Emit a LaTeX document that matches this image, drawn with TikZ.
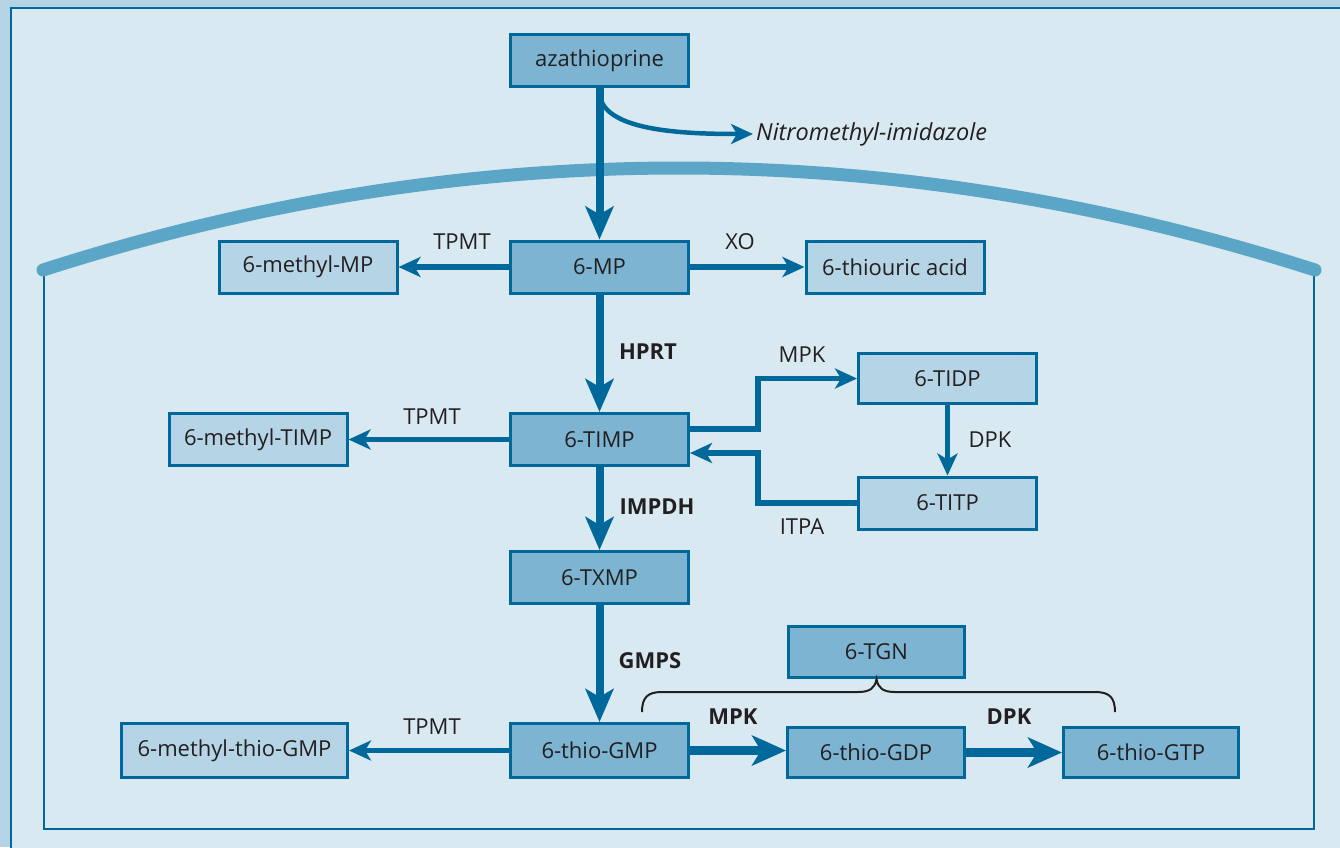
\documentclass[tikz,border=0pt]{standalone}
\usepackage{fontspec}
\setmainfont{Open Sans}
\usetikzlibrary{arrows.meta}
\definecolor{bg}{HTML}{D9E9F2}
\definecolor{strip}{HTML}{B4D4E6}
\definecolor{dkblue}{HTML}{00689A}
\definecolor{midfill}{HTML}{7CB4D2}
\definecolor{ltfill}{HTML}{B5D5E7}
\definecolor{membrane}{HTML}{5BA6C7}
\definecolor{txt}{HTML}{231F20}
\tikzset{
  box/.style={draw=dkblue, line width=3pt, fill=midfill, inner sep=0pt,
    font=\fontsize{22}{25}\selectfont, text=txt, minimum width=178pt, minimum height=52pt},
  lbox/.style={box, fill=ltfill},
  lbl/.style={font=\fontsize{22}{25}\selectfont, text=txt, inner sep=0pt},
  blbl/.style={lbl, font=\fontsize{22}{25}\selectfont\bfseries},
  bigarrow/.style={draw=dkblue, line width=8pt, -{Stealth[length=33pt,width=28pt,inset=8pt]}},
  thinarrow/.style={draw=dkblue, line width=5.5pt, -{Stealth[length=22pt,width=20pt,inset=6pt]}},
  fatarrow/.style={draw=dkblue, line width=9pt, -{Stealth[length=34pt,width=30pt,inset=9pt]}},
}
\begin{document}
\begin{tikzpicture}[x=1pt, y=-1pt]
\useasboundingbox (0,0) rectangle (1340,847);
% frame
\fill[strip] (0,0) rectangle (1340,847);
\fill[bg] (11,8) rectangle (1345,852);
\draw[dkblue, line width=2pt] (11,852) -- (11,8) -- (1345,8);
% membrane and cell
\draw[dkblue, line width=2.5pt] (44,272) -- (44,829) -- (1314,829) -- (1314,272);
\draw[membrane, line width=13pt, line cap=round] (43,270) .. controls (466,134) and (891,134) .. (1315,270);

% nodes
\node[box] (aza) at (599.5,60.5) {azathioprine};
\node[box] (mp) at (599.5,267) {6-MP};
\node[lbox] (mmp) at (308,267) {6-methyl-MP};
\node[lbox] (thio) at (895,267) {6-thiouric acid};
\node[box] (timp) at (599.5,439.5) {6-TIMP};
\node[lbox] (mtimp) at (258,439.5) {6-methyl-TIMP};
\node[lbox, minimum height=50pt] (tidp) at (947.5,378.5) {6-TIDP};
\node[lbox] (titp) at (947.5,503) {6-TITP};
\node[box] (txmp) at (599.5,577.5) {6-TXMP};
\node[box, minimum height=54pt] (tgmp) at (599.5,750.5) {6-thio-GMP};
\node[lbox, minimum width=226pt, minimum height=54pt] (mtgmp) at (234.5,750.5) {6-methyl-thio-GMP};
\node[box, minimum width=177pt, minimum height=50pt] (tgdp) at (876,752.5) {6-thio-GDP};
\node[box, minimum width=175pt, minimum height=50pt] (tgtp) at (1151,752.5) {6-thio-GTP};
\node[box, minimum width=176pt, minimum height=51pt] (tgn) at (876.5,652) {6-TGN};
\node[lbl, anchor=west, font=\fontsize{23.5}{26}\selectfont\itshape, inner sep=3pt] (nitro) at (753,134) {Nitromethyl-imidazole};

% labels
\node[lbl] (l1) at (462,242) {TPMT};
\node[lbl] (l2) at (740,242) {XO};
\node[blbl] (l3) at (648,352) {HPRT};
\node[lbl] (l4) at (802,355) {MPK};
\node[lbl] (l5) at (990,440) {DPK};
\node[lbl] (l6) at (802,527) {ITPA};
\node[lbl] (l7) at (432,417) {TPMT};
\node[blbl] (l8) at (657,507) {IMPDH};
\node[blbl] (l9) at (650,661) {GMPS};
\node[lbl] (l10) at (432,727) {TPMT};
\node[blbl] (l11) at (733,717) {MPK};
\node[blbl] (l12) at (1009,717) {DPK};

% connectors
\draw[bigarrow] (aza.south) -- (mp.north);
\draw[dkblue, line width=4.5pt, -{Stealth[length=22pt,width=20pt,inset=6pt]}]
  ([yshift=-5pt]aza.south) .. controls +(2,38) and +(-70,0) .. (nitro.west);
\draw[thinarrow] (mp.west) -- (mmp.east);
\draw[thinarrow] (mp.east) -- (thio.west);
\draw[bigarrow] (mp.south) -- (timp.north);
\draw[thinarrow] (timp.west) -- (mtimp.east);
\draw[thinarrow] ([yshift=10.5pt]timp.east) -- ++(68,0) |- (tidp.west);
\draw[thinarrow] (titp.west) -- ++(-99,0) |- ([yshift=-13.5pt]timp.east);
\draw[thinarrow] (tidp.south) -- (titp.north);
\draw[bigarrow] (timp.south) -- (txmp.north);
\draw[bigarrow] (txmp.south) -- (tgmp.north);
\draw[thinarrow] (tgmp.west) -- (mtgmp.east);
\draw[fatarrow] (tgmp.east) -- (tgmp.east -| tgdp.west);
\draw[fatarrow] (tgdp.east) -- (tgdp.east -| tgtp.west);

% brace
\draw[txt, line width=2pt] (642,712) .. controls (642,697) and (648,692) .. (662,692) -- (858,692)
  .. controls (870,692) and (875,688) .. (tgn.south) .. controls (878,688) and (883,692) .. (895,692)
  -- (1095,692) .. controls (1109,692) and (1115,697) .. (1115,712);
\end{tikzpicture}
\end{document}
